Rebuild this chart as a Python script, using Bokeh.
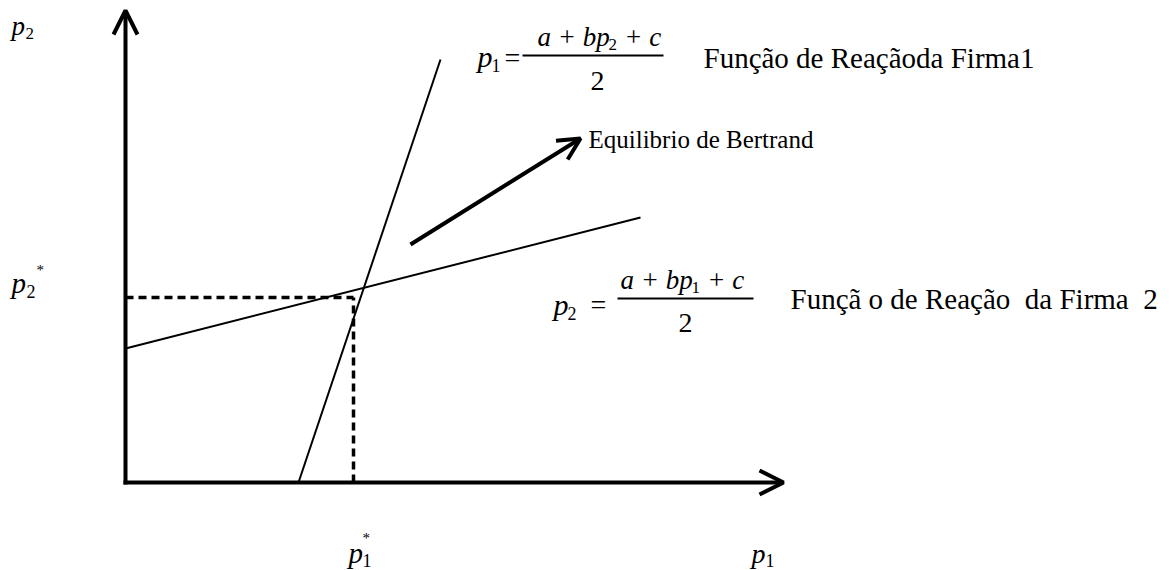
from bokeh.plotting import figure
from bokeh.models import Range1d, Arrow, OpenHead, Label
from bokeh.embed import file_html
from bokeh.resources import INLINE

# ---- diagram data (units: origin at the corner of the axes) ----
axis_x_end = 658          # end of the p1 axis
axis_y_end = 472          # end of the p2 axis
rf1_x = [173, 315]        # reaction function of firm 1
rf1_y = [0, 423]
rf2_x = [0, 515]          # reaction function of firm 2
rf2_y = [134, 265]
p1_star = 228             # equilibrium price of firm 1
p2_star = 185             # equilibrium price of firm 2
bertrand_x = [285, 455]   # arrow pointing to the Bertrand label
bertrand_y = [238, 344]

NB = "\u00a0"
labels_text = {
    "rf1": "Função de Reaçãoda Firma1",
    "rf2": "Funçã o de Reação" + NB + " da Firma" + NB + " 2",
    "eq": "Equilibrio de Bertrand",
}

OX, OY = 125, 482  # page position of the origin


def X(px):
    return px - OX


def Y(py):
    return OY - py


W, H = 1169, 570
p = figure(width=W, height=H, output_backend="svg", toolbar_location=None,
           x_range=Range1d(-OX, W - OX), y_range=Range1d(OY - H, OY),
           min_border=0, x_axis_location=None, y_axis_location=None)
p.grid.visible = False
p.outline_line_color = None
p.background_fill_color = "white"
p.border_fill_color = "white"

# axes with arrows
p.add_layout(Arrow(end=OpenHead(size=24, line_width=4, line_color="black"),
                   x_start=-2, y_start=0, x_end=axis_x_end, y_end=0,
                   line_width=4, line_color="black"))
p.add_layout(Arrow(end=OpenHead(size=24, line_width=4, line_color="black"),
                   x_start=0, y_start=-2, x_end=0, y_end=axis_y_end,
                   line_width=4, line_color="black"))

# reaction functions
p.line(rf1_x, rf1_y, line_width=2, line_color="black")
p.line(rf2_x, rf2_y, line_width=2, line_color="black")

# dashed equilibrium guides
p.line([0, p1_star], [p2_star, p2_star], line_width=3.5, line_color="black", line_dash="8 5")
p.line([p1_star, p1_star], [0, p2_star], line_width=3.5, line_color="black", line_dash="8 5")

# Bertrand arrow
p.add_layout(Arrow(end=OpenHead(size=22, line_width=4, line_color="black"),
                   x_start=bertrand_x[0], y_start=bertrand_y[0],
                   x_end=bertrand_x[1], y_end=bertrand_y[1],
                   line_width=4, line_color="black"))

SERIF = "Liberation Serif"


def lab(text, px, py, size, italic=False, align="left"):
    # py is the wanted baseline on the page; svg text sits ~0.3em lower
    p.add_layout(Label(x=X(px), y=Y(py - round(0.3 * size)), text=text, text_font=SERIF,
                       text_font_size=f"{size}px",
                       text_font_style="italic" if italic else "normal",
                       text_align=align, text_baseline="alphabetic",
                       text_color="black"))


# axis labels
lab("p", 11, 33, 27, italic=True)
lab("2", 25, 38, 17)
lab("p", 11, 291, 29, italic=True)
lab("2", 26, 296, 18)
lab("*", 36, 273, 15)
lab("p", 348, 561, 29, italic=True)
lab("1", 362, 565, 18)
lab("*", 362, 541, 15)
lab("p", 751, 561, 28, italic=True)
lab("1", 765, 565, 18)

# formula 1: p1 = (a + b p2 + c) / 2
lab("p", 477, 65, 30, italic=True)
lab("1", 491, 70, 18)
lab("=", 504, 65, 28)
p.segment(x0=[X(522)], y0=[Y(55)], x1=[X(663)], y1=[Y(55)], line_width=2, line_color="black")
lab("a + bp", 537, 44, 27, italic=True)
lab("2", 608, 49, 17)
lab(NB + "+ c", 617, 44, 27, italic=True)
lab("2", 597, 88, 28, align="center")
lab(labels_text["rf1"], 703, 66, 29)

# formula 2: p2 = (a + b p1 + c) / 2
lab("p", 553, 313, 30, italic=True)
lab("2", 567, 318, 18)
lab("=", 590, 312, 28)
p.segment(x0=[X(617)], y0=[Y(298)], x1=[X(753)], y1=[Y(298)], line_width=2, line_color="black")
lab("a + bp", 620, 287, 27, italic=True)
lab("1", 691, 292, 17)
lab(NB + "+ c", 700, 287, 27, italic=True)
lab("2", 685, 330, 28, align="center")
lab(labels_text["rf2"], 790, 307, 29)

# Bertrand label
lab(labels_text["eq"], 588, 147, 25)

open("out.html", "w").write(file_html(p, INLINE))
